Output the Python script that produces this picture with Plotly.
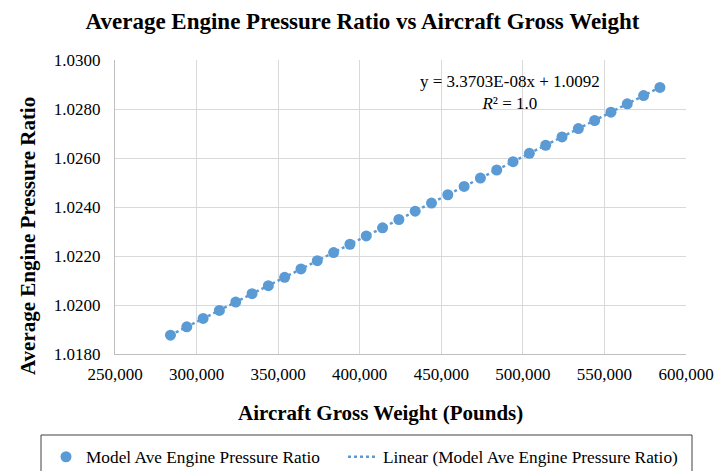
import numpy as np
import plotly.graph_objects as go

gross_weight = [284000, 294000, 304000, 314000, 324000, 334000, 344000, 354000,
                364000, 374000, 384000, 394000, 404000, 414000, 424000, 434000,
                444000, 454000, 464000, 474000, 484000, 494000, 504000, 514000,
                524000, 534000, 544000, 554000, 564000, 574000, 584000]
epr = [1.01877, 1.01911, 1.01945, 1.01978, 1.02012, 1.02046, 1.02079, 1.02113,
       1.02147, 1.02181, 1.02214, 1.02248, 1.02282, 1.02315, 1.02349, 1.02383,
       1.02416, 1.02450, 1.02484, 1.02518, 1.02551, 1.02585, 1.02619, 1.02652,
       1.02686, 1.02720, 1.02753, 1.02787, 1.02821, 1.02855, 1.02888]

title = "Average Engine Pressure Ratio vs Aircraft Gross Weight"
x_title = "Aircraft Gross Weight (Pounds)"
y_title = "Average Engine Pressure Ratio"
series_name = "Model Ave Engine Pressure Ratio"
trend_name = "Linear (Model Ave Engine Pressure Ratio)"
eq_text = "y = 3.3703E-08x + 1.0092<br><i>R</i>² = 1.0"

xs = np.array(gross_weight, dtype=float)
ys = np.array(epr, dtype=float)
slope, intercept = np.polyfit(xs, ys, 1)
trend_y = slope * xs + intercept

color = "#5B9BD5"
font = "Liberation Serif"

FW, FH = 716, 471
# plot area in pixels: left 115, right 686, top 60, bottom 354
PL, PR, PT, PB = 115, 686, 60, 354
W, H = PR - PL, PB - PT


def px(x):
    return (x - PL) / W


def py(y):
    return (PB - y) / H


legend_common = dict(orientation="h", xref="container", yref="container",
                     xanchor="left", yanchor="middle", y=1 - 457 / FH,
                     font=dict(family=font, size=17.3, color="#000000"),
                     bgcolor="rgba(0,0,0,0)", itemwidth=30)

fig = go.Figure()
fig.add_trace(go.Scatter(x=gross_weight, y=epr, mode="markers", name=series_name,
                         marker=dict(color=color, size=11), legend="legend"))
fig.add_trace(go.Scatter(x=gross_weight, y=list(trend_y), mode="lines", name=trend_name,
                         line=dict(color=color, width=2.5, dash="dot"), legend="legend2"))

fig.update_layout(
    width=FW, height=FH,
    margin=dict(l=PL, r=FW - PR, t=PT, b=FH - PB),
    paper_bgcolor="white", plot_bgcolor="white",
    font=dict(family=font, color="#000000", size=17),
    title=dict(text="<b>" + title + "</b>", x=362.5 / FW, xanchor="center",
               y=1 - 21 / FH, yanchor="middle",
               font=dict(family=font, size=23, color="#000000")),
    showlegend=True,
    legend=dict(x=46 / FW, **legend_common),
    legend2=dict(x=343 / FW, **legend_common),
    shapes=[dict(type="rect", xref="paper", yref="paper",
                 x0=px(41), x1=px(692), y0=py(480), y1=py(435),
                 line=dict(color="#404040", width=1), fillcolor="rgba(0,0,0,0)", layer="below")],
    annotations=[
        dict(text=eq_text, xref="paper", yref="paper", x=px(510), y=py(92),
             xanchor="center", yanchor="middle", showarrow=False, align="center",
             font=dict(family=font, size=17, color="#000000")),
        dict(text="<b>" + x_title + "</b>", xref="paper", yref="paper", x=px(380), y=py(413),
             xanchor="center", yanchor="middle", showarrow=False,
             font=dict(family=font, size=21, color="#000000")),
        dict(text="<b>" + y_title + "</b>", xref="paper", yref="paper", x=px(28), y=py(236),
             xanchor="center", yanchor="middle", showarrow=False, textangle=-90,
             font=dict(family=font, size=21, color="#000000")),
    ],
)
fig.update_xaxes(range=[250000, 600000], dtick=50000, tickformat=",",
                 showgrid=True, gridcolor="#D9D9D9", gridwidth=1.3,
                 showline=True, linecolor="#BFBFBF", linewidth=1.3,
                 ticks="outside", ticklen=4, tickcolor="rgba(0,0,0,0)", zeroline=False,
                 automargin=False,
                 tickfont=dict(family=font, size=17))
fig.update_yaxes(range=[1.018, 1.030], dtick=0.002, tickformat=".4f",
                 showgrid=True, gridcolor="#D9D9D9", gridwidth=1.3,
                 showline=True, linecolor="#BFBFBF", linewidth=1.3,
                 ticks="outside", ticklen=10, tickcolor="rgba(0,0,0,0)", zeroline=False,
                 automargin=False,
                 tickfont=dict(family=font, size=17))

fig.write_html("out.html", config={"displayModeBar": False},
               post_script="document.body.style.margin='0px';document.body.style.padding='0px';")
